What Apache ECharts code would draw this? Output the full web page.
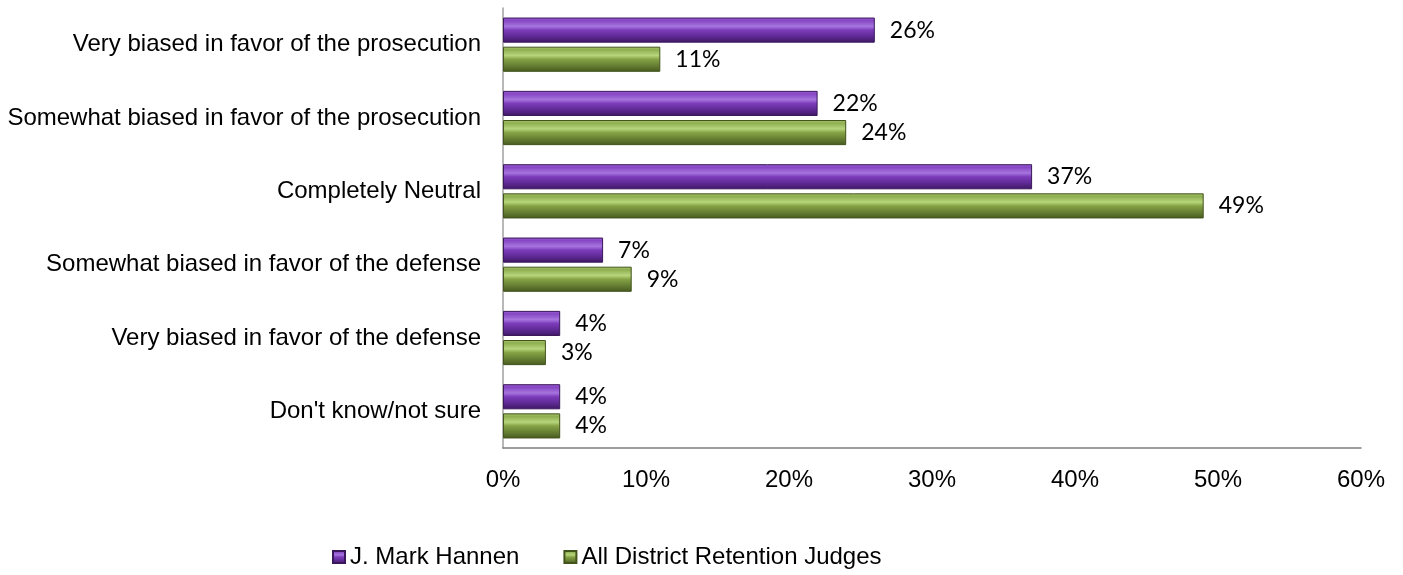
<!DOCTYPE html>
<html>
<head>
<meta charset="utf-8">
<script src="https://cdn.jsdelivr.net/npm/echarts@6/dist/echarts.min.js"></script>
<style>html,body{margin:0;padding:0;background:#fff;}#c{width:1403px;height:575px;}</style>
</head>
<body>
<div id="c"></div>
<script>
const categories = [
  "Very biased in favor of the prosecution",
  "Somewhat biased in favor of the prosecution",
  "Completely Neutral",
  "Somewhat biased in favor of the defense",
  "Very biased in favor of the defense",
  "Don't know/not sure"
];
const seriesNames = ["J. Mark Hannen", "All District Retention Judges"];
const hannen = [26, 22, 37, 7, 4, 4];
const allJudges = [11, 24, 49, 9, 3, 4];
const xTicks = { min: 0, max: 60, interval: 10 };

function grad(stops) {
  return new echarts.graphic.LinearGradient(0, 0, 0, 1, stops.map(c => ({ offset: c[0], color: c[1] })));
}
const purple = grad([[0, '#9a62d2'], [0.12, '#8646c4'], [0.35, '#a675de'], [0.5, '#7d3cbb'], [0.75, '#5f2a95'], [1, '#3e1862']]);
const green = grad([[0, '#a9c872'], [0.12, '#8fae50'], [0.35, '#b7d57c'], [0.5, '#86a346'], [0.75, '#667f33'], [1, '#46591f']]);

const chart = echarts.init(document.getElementById('c'), null, { renderer: 'canvas' });
const labelStyle = {
  show: true, position: 'right', distance: 15,
  formatter: p => p.value + '%',
  fontFamily: 'Lato', fontSize: 23, color: '#000'
};
chart.setOption({
  animation: false,
  backgroundColor: '#fff',
  grid: { left: 503, right: 42, top: 8, bottom: 127, containLabel: false },
  legend: {
    left: 327, top: 540,
    itemWidth: 12, itemHeight: 12, itemGap: 44,
    icon: 'rect',
    textStyle: { fontFamily: 'Liberation Sans', fontSize: 24, color: '#000' },
    data: seriesNames
  },
  xAxis: {
    type: 'value', min: xTicks.min, max: xTicks.max, interval: xTicks.interval,
    axisLine: { show: true, lineStyle: { color: '#7f7f7f', width: 1.5 } },
    axisTick: { show: false },
    splitLine: { show: false },
    axisLabel: { formatter: '{value}%', margin: 20, fontFamily: 'Liberation Sans', fontSize: 24, color: '#000' }
  },
  yAxis: {
    type: 'category', inverse: true, data: categories,
    axisLine: { show: true, lineStyle: { color: '#a0a0a0', width: 1.5 } },
    axisTick: { show: false },
    axisLabel: { margin: 22, fontFamily: 'Liberation Sans', fontSize: 24, color: '#000' }
  },
  series: [
    {
      name: seriesNames[0], type: 'bar', data: hannen,
      barGap: '16%', barCategoryGap: '26%',
      itemStyle: { color: purple, borderColor: '#3a175a', borderWidth: 1 },
      label: labelStyle
    },
    {
      name: seriesNames[1], type: 'bar', data: allJudges,
      barGap: '16%', barCategoryGap: '26%',
      itemStyle: { color: green, borderColor: '#42531c', borderWidth: 1 },
      label: labelStyle
    }
  ]
});
</script>
</body>
</html>
